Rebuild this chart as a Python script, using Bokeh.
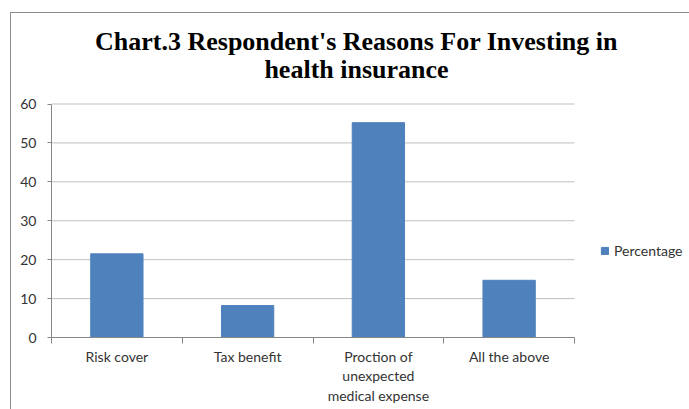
from bokeh.plotting import figure
from bokeh.models import (ColumnDataSource, Range1d, FixedTicker, Label, InlineStyleSheet)
from bokeh.embed import file_html
from bokeh.resources import INLINE

# ---- data ----
categories = ["Risk cover", "Tax benefit", "Proction of\nunexpected\nmedical expense", "All the above"]
percentage = [21.5, 8.2, 55.2, 14.7]
y_ticks = [0, 10, 20, 30, 40, 50, 60]
series_name = "Percentage"
title_lines = ["Chart.3 Respondent's Reasons For Investing in", "health insurance"]

n = len(categories)
centers = [i + 0.5 for i in range(n)]
bounds = [i for i in range(n + 1)]
src = ColumnDataSource(dict(x=centers, top=percentage, cat=categories))
grid_src = ColumnDataSource(dict(x0=[0] * len(y_ticks), x1=[n] * len(y_ticks),
                                 y=y_ticks))

# ---- layout geometry (pixels) ----
W, H = 689, 409
left_px, bottom_px = 51, 72
frame_w = W - left_px
frame_h = H - bottom_px
plot_w_px = 523          # width of the category area
plot_h_px = 233.5        # height of 0..60
y_max = y_ticks[-1]
x_end = frame_w * n / plot_w_px
y_end = frame_h * y_max / plot_h_px

p = figure(width=W, height=H, output_backend="svg", toolbar_location=None,
           x_range=Range1d(0, x_end), y_range=Range1d(0, y_end),
           min_border_left=left_px, min_border_right=0, min_border_top=0,
           min_border_bottom=bottom_px)
p.outline_line_color = None
p.background_fill_color = "white"
p.border_fill_color = "white"
p.xgrid.visible = False
p.ygrid.visible = False

# horizontal gridlines at the y ticks, across the category area
p.segment(x0="x0", x1="x1", y0="y", y1="y", source=grid_src,
          line_color="#BFBFBF", line_width=1)

p.vbar(x="x", top="top", width=0.4, source=src, fill_color="#4F81BD",
       line_color="#4F81BD", legend_label=series_name)

# axes
ax = p.xaxis[0]
ax.bounds = (0, n)
ax.ticker = FixedTicker(ticks=centers, minor_ticks=bounds)
ax.major_label_overrides = {c: lab for c, lab in zip(centers, categories)}
ax.major_tick_out = 0
ax.major_tick_in = 0
ax.minor_tick_out = 6
ax.minor_tick_in = 0
ax.minor_tick_line_color = "#868686"
ax.axis_line_color = "#868686"
ax.major_label_text_font = "Lato"
ax.major_label_text_font_size = "14px"
ax.major_label_text_color = "#333333"
ax.major_label_text_line_height = 1.15
ax.major_label_standoff = 4

ay = p.yaxis[0]
ay.bounds = (0, y_max)
ay.ticker = FixedTicker(ticks=y_ticks)
ay.major_tick_out = 4
ay.major_tick_in = 0
ay.minor_tick_line_color = None
ay.major_tick_line_color = "#868686"
ay.axis_line_color = "#868686"
ay.major_label_text_font = "Lato"
ay.major_label_text_font_size = "14px"
ay.major_label_text_color = "#333333"
ay.major_label_standoff = 11

# legend
lg = p.legend[0]
lg.location = (549, 78)
lg.glyph_width = 9
lg.glyph_height = 9
lg.label_standoff = 5
lg.padding = 0
lg.margin = 0
lg.spacing = 0
lg.border_line_color = None
lg.background_fill_alpha = 0
lg.label_text_font = "Lato"
lg.label_text_font_size = "14px"
lg.label_text_color = "#333333"

# title (two lines)
for txt, yb in zip(title_lines, [296.5, 268]):
    p.add_layout(Label(x=305, y=yb, x_units="screen", y_units="screen", text=txt,
                       text_align="center", text_baseline="alphabetic",
                       text_font="Liberation Serif", text_font_style="bold",
                       text_font_size="26px", text_color="black"))

# outer chart border (left and top edges)
p.stylesheets = [InlineStyleSheet(css=""":host::after { content: ''; position: absolute;
 left: 10px; top: 12px; right: -5px; bottom: -5px; border-left: 1.5px solid #8C8C8C;
 border-top: 1.5px solid #8C8C8C; pointer-events: none; }""")]

open("out.html", "w").write(file_html(p, INLINE))
